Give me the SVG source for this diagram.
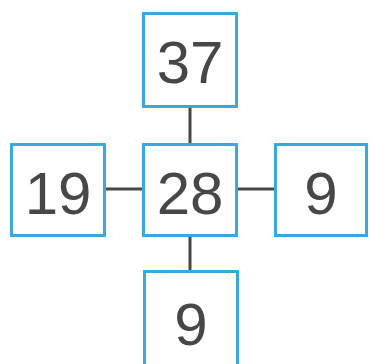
<svg xmlns="http://www.w3.org/2000/svg" width="370" height="364" viewBox="0 0 370 364">
<style>
.box{fill:#fff;stroke:#3aa8dc;stroke-width:3}
.lbl{font-family:"Liberation Sans",Arial,sans-serif;font-size:60px;fill:#474747;text-anchor:middle}
.conn line{stroke:#474747;stroke-width:3}
</style>
<rect width="370" height="364" fill="#fff"/>
<g class="conn" id="connectors">
<line x1="190" y1="106" x2="190" y2="145"/>
<line x1="190" y1="235" x2="190" y2="272"/>
<line x1="104" y1="189" x2="144" y2="189"/>
<line x1="236" y1="189" x2="276" y2="189"/>
</g>
<g id="n37"><rect class="box" x="143.5" y="13.5" width="93" height="93"/><text class="lbl" x="190" y="83">37</text></g>
<g id="n19"><rect class="box" x="11.5" y="144.5" width="93" height="91"/><text class="lbl" x="58" y="214">19</text></g>
<g id="n28"><rect class="box" x="143.5" y="144.5" width="93" height="91"/><text class="lbl" x="190" y="214">28</text></g>
<g id="n9r"><rect class="box" x="275.5" y="144.5" width="91" height="91"/><text class="lbl" x="321" y="214">9</text></g>
<g id="n9b"><rect class="box" x="144.5" y="271.5" width="93" height="95"/><text class="lbl" x="191" y="345">9</text></g>
</svg>
